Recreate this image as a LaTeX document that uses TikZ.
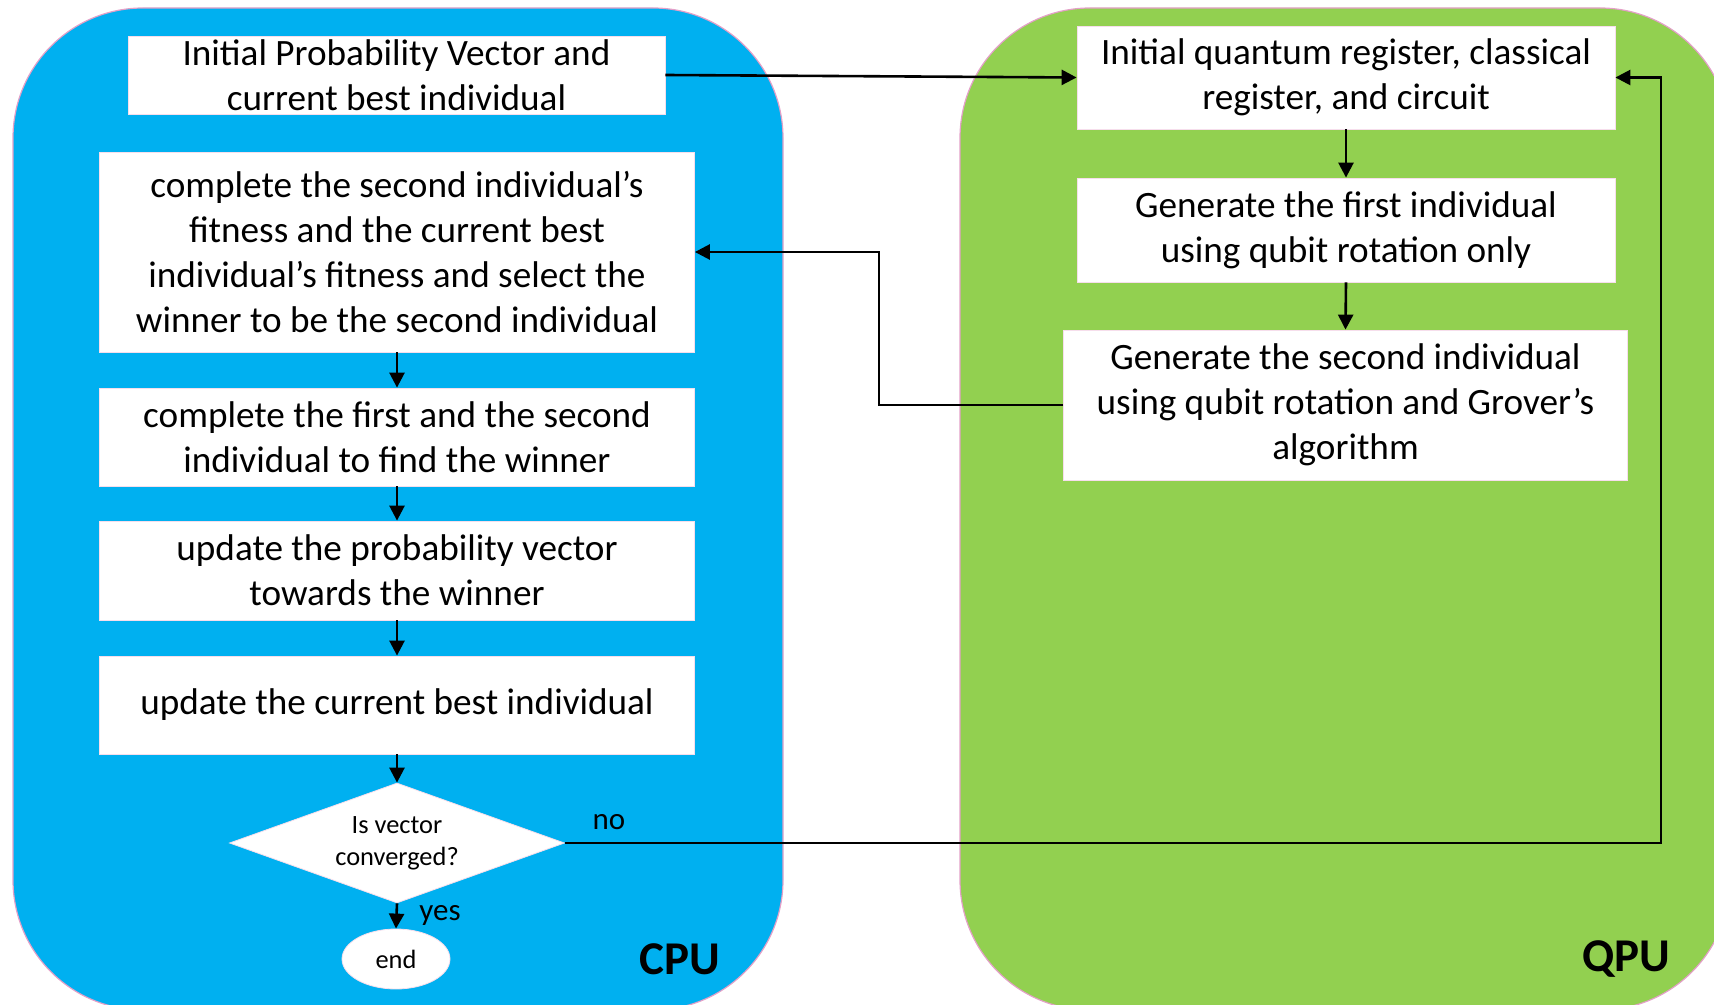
\documentclass[tikz,border=0pt]{standalone}
\usepackage{fontspec}
\setmainfont{Carlito}
\usetikzlibrary{shapes.geometric,arrows.meta}
\definecolor{cpublue}{RGB}{0,176,240}
\definecolor{qpugreen}{RGB}{146,208,80}
\definecolor{edgepink}{RGB}{228,160,200}
\begin{document}
\begin{tikzpicture}[x=0.5pt,y=-0.5pt,
  panel/.style={fill=#1, draw=edgepink, line width=0.6pt, rounded corners=65pt},
  stepbox/.style={fill=white, draw=edgepink!35, line width=0.4pt, align=center,
    inner sep=0pt, font=\fontsize{18.6}{22.5}\selectfont},
  smalltxt/.style={font=\fontsize{13.2}{16}\selectfont, align=center, inner sep=0pt},
  lbl/.style={font=\fontsize{15.5}{18}\selectfont, inner sep=0pt},
  unit/.style={font=\fontsize{23.5}{28}\selectfont\bfseries, inner sep=0pt},
  flow/.style={-{Triangle[length=7.5pt,width=7.5pt]}, line width=1.3pt}]
\useasboundingbox (0,0) rectangle (1714,1005);
\clip (0,0) rectangle (1714,1005);

% processing units
\path[panel=cpublue] (13,8) rectangle (783,1010);
\path[panel=qpugreen] (960,8) rectangle (1730,1010);

% CPU side
\node[stepbox, minimum width=268.5pt, minimum height=39pt] (b1) at (396.5,75)
  {Initial Probability Vector and\\current best individual};
\node[stepbox, minimum width=297.5pt, minimum height=100pt] (b2) at (397,252)
  {complete the second individual’s\\fitness and the current best\\individual’s fitness and select the\\winner to be the second individual};
\node[stepbox, minimum width=297.5pt, minimum height=49pt] (b3) at (397,437)
  {complete the first and the second\\individual to find the winner};
\node[stepbox, minimum width=297.5pt, minimum height=49.5pt] (b4) at (397,570.5)
  {update the probability vector\\towards the winner};
\node[stepbox, minimum width=297.5pt, minimum height=49pt] (b5) at (397,705)
  {update the current best individual};
\node[diamond, fill=white, draw=edgepink!35, line width=0.4pt, smalltxt,
  minimum width=167.5pt, minimum height=60pt, shape aspect=2.8] (conv) at (397,843)
  {Is vector\\converged?};
\node[ellipse, fill=white, draw=edgepink!35, line width=0.4pt, smalltxt,
  minimum width=54pt, minimum height=30pt] (end) at (396,959) {end};

% QPU side
\node[stepbox, minimum width=269pt, minimum height=51.5pt] (q1) at (1346,77.5)
  {Initial quantum register, classical\\register, and circuit};
\node[stepbox, minimum width=269pt, minimum height=52pt] (q2) at (1346,230)
  {Generate the first individual\\using qubit rotation only};
\node[stepbox, minimum width=282pt, minimum height=75pt] (q3) at (1345.5,405)
  {Generate the second individual\\using qubit rotation and Grover’s\\algorithm};

\coordinate (noturn) at (1661,843);
\coordinate (noup) at (1661,77.5);
\coordinate (backturn) at (879,405);
\coordinate (backup) at (879,252);

% connectors
\draw[flow] (b1.east) -- (q1.west);
\draw[flow] (q1.south) -- (q2.north);
\draw[flow] (q2.south) -- (q3.north);
\draw[flow] (q3.west) -- (backturn) -- (backup) -- (b2.east);
\draw[flow] (b2.south) -- (b3.north);
\draw[flow] (b3.south) -- (b4.north);
\draw[flow] (b4.south) -- (b5.north);
\draw[flow] (b5.south) -- (conv.north);
\draw[flow] (conv.south) -- (end.north);
\draw[flow] (conv.east) -- (noturn) -- (noup) -- (q1.east);

% labels
\node[lbl] (no) at (609,822) {no};
\node[lbl] (yes) at (440,915) {yes};
\node[unit] (cpu) at (680,959) {CPU};
\node[unit] (qpu) at (1626,959) {QPU};
\end{tikzpicture}
\end{document}
